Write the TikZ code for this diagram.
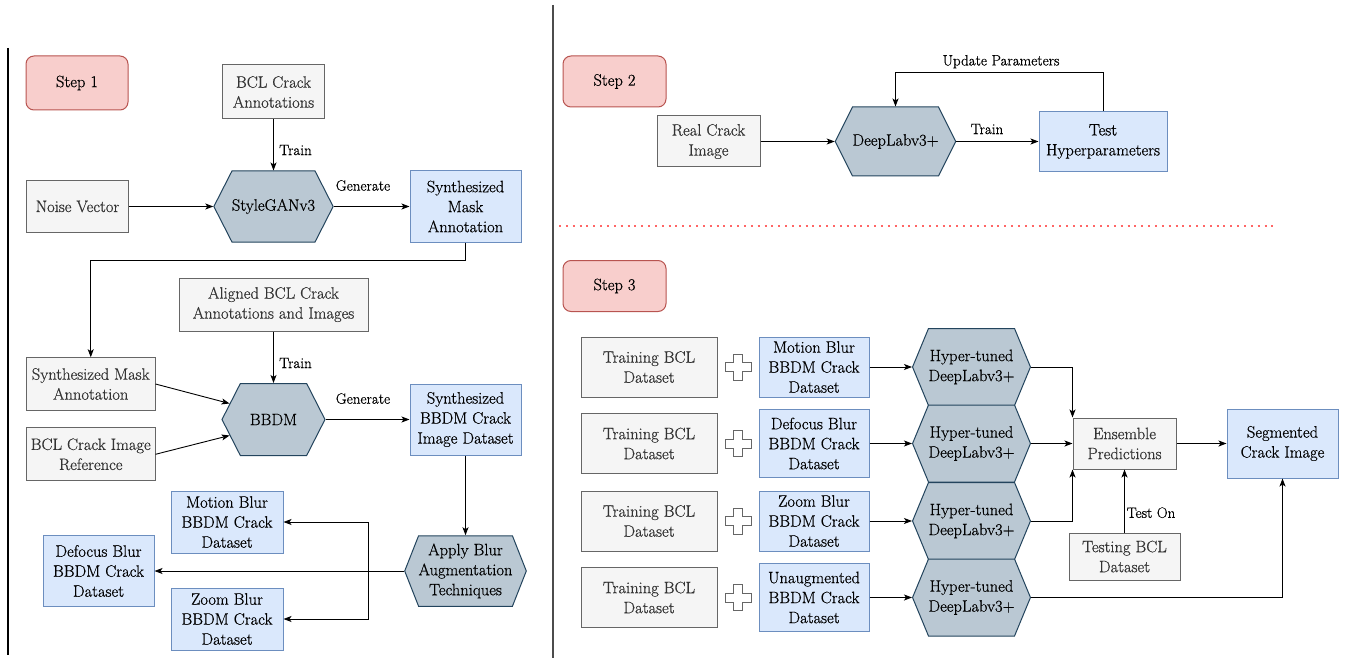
\documentclass[tikz,border=0pt]{standalone}
\usepackage{fontspec}
\setmainfont{Latin Modern Roman}[FakeBold=0.6]
\usetikzlibrary{shapes.symbols,arrows.meta,calc}
\newcommand\bodyfs{\rmfamily\fontsize{16.5}{20}\selectfont}
\newcommand\lblfs{\rmfamily\fontsize{15}{18}\selectfont}
\definecolor{gfill}{HTML}{F5F5F5}
\definecolor{gline}{HTML}{666666}
\definecolor{gtext}{HTML}{333333}
\definecolor{bfill}{HTML}{DAE8FC}
\definecolor{bline}{HTML}{6C8EBF}
\definecolor{hfill}{HTML}{BAC8D3}
\definecolor{hline}{HTML}{23445D}
\definecolor{rfill}{HTML}{F8CECC}
\definecolor{rline}{HTML}{B85450}
\definecolor{dotred}{HTML}{FF6666}
\tikzset{
  base/.style={align=center, inner sep=0pt, line width=1pt, font=\bodyfs},
  graybox/.style={base, rectangle, draw=gline, fill=gfill, text=gtext},
  bluebox/.style={base, rectangle, draw=bline, fill=bfill, text=black},
  hexbox/.style={base, signal, signal to=west and east, draw=hline, fill=hfill, text=black},
  stepbox/.style={base, rectangle, rounded corners=8pt, draw=rline, fill=rfill, text=black},
  lbl/.style={font=\lblfs, inner sep=0pt, text=black},
  arr/.style={-{Stealth[length=8pt,width=6pt,inset=2pt]}, line width=0.9pt, black},
  plusst/.style={draw=gline, fill=white, line width=1pt},
}
\begin{document}
\begin{tikzpicture}[x=1pt,y=-1pt]
\useasboundingbox (0,0) rectangle (1347,658);
% separators
\draw[line width=2pt, black] (8,48) -- (8,655);
\draw[line width=1.5pt, black!70] (553,5) -- (553,658);
\coordinate (dotA) at (559,225.7);
\coordinate (dotB) at (1275,225.7);
\draw[dotred, line width=2pt, dash pattern=on 2pt off 4.85pt] (dotA) -- (dotB);

% ---------------- Step 1 ----------------
\node[stepbox, minimum width=102pt, minimum height=54pt] (s1) at (77,83) {Step 1};
\node[graybox, minimum width=102pt, minimum height=54pt] (bcla) at (273.5,92) {BCL Crack\\Annotations};
\node[graybox, minimum width=102pt, minimum height=52pt] (noise) at (77.5,206.5) {Noise Vector};
\node[hexbox, minimum width=103pt, minimum height=71pt, signal pointer angle=126] (sgan) at (273.5,206.5) {StyleGANv3};
\node[bluebox, minimum width=111pt, minimum height=71pt] (sma) at (465.5,206.5) {Synthesized\\Mask\\Annotation};
\draw[arr] (bcla.south) -- (sgan.north);
\node[lbl] (ltrain1) at (295.5,150) {Train};
\draw[arr] (noise.east) -- (sgan.west);
\draw[arr] (sgan.east) -- (sma.west);
\node[lbl] (lgen1) at (363,185.5) {Generate};

\node[graybox, minimum width=189pt, minimum height=53pt] (aligned) at (273.5,304.5) {Aligned BCL Crack\\Annotations and Images};
\node[graybox, minimum width=128.5pt, minimum height=52.5pt] (sm2) at (90.75,384) {Synthesized Mask\\Annotation};
\node[graybox, minimum width=128.5pt, minimum height=52.7pt] (bref) at (90.75,454.3) {BCL Crack Image\\Reference};
\node[hexbox, minimum width=103pt, minimum height=72pt, signal pointer angle=126] (bbdm) at (273.5,419.5) {BBDM};
\node[bluebox, minimum width=111pt, minimum height=71pt] (sbd) at (465.5,419.5) {Synthesized\\BBDM Crack\\Image Dataset};
\draw[arr] (sma.south) -- (sma.south |- 0,260) -| (sm2.north);
\draw[arr] (aligned.south) -- (bbdm.north);
\node[lbl] (ltrain2) at (295.5,363) {Train};
\draw[arr] (sm2.east) -- (bbdm.160);
\draw[arr] (bref.east) -- (bbdm.200);
\draw[arr] (bbdm.east) -- (sbd.west);
\node[lbl] (lgen2) at (363,398.6) {Generate};

\node[bluebox, minimum width=112pt, minimum height=62pt] (mb) at (227,522) {Motion Blur\\BBDM Crack\\Dataset};
\node[bluebox, minimum width=111pt, minimum height=70.5pt] (db) at (98.5,571) {Defocus Blur\\BBDM Crack\\Dataset};
\node[bluebox, minimum width=112pt, minimum height=62pt] (zb) at (227,619) {Zoom Blur\\BBDM Crack\\Dataset};
\node[hexbox, minimum width=115.4pt, minimum height=70.5pt, signal pointer angle=137] (apply) at (465.5,571) {Apply Blur\\Augmentation\\Techniques};
\draw[arr] (sbd.south) -- (apply.north);
\draw[arr] (apply.west) -- (db.east);
\coordinate (br) at (368,571);
\draw[arr] (br) |- (mb.east);
\draw[arr] (br) |- (zb.east);

% ---------------- Step 2 ----------------
\node[stepbox, minimum width=103pt, minimum height=51pt] (s2) at (614.5,81.5) {Step 2};
\node[graybox, minimum width=103pt, minimum height=51pt] (rci) at (708.5,141.5) {Real Crack\\Image};
\node[hexbox, minimum width=101pt, minimum height=69pt, signal pointer angle=127] (dl) at (895.5,141.5) {DeepLabv3+};
\node[bluebox, minimum width=128pt, minimum height=60pt] (th) at (1103,141.5) {Test\\Hyperparameters};
\draw[arr] (rci.east) -- (dl.west);
\draw[arr] (dl.east) -- (th.west);
\node[lbl] (ltrain3) at (987,129) {Train};
\draw[arr] (th.north) -- (th.north |- 0,72.7) -| (dl.north);
\node[lbl] (lupd) at (1001,61.7) {Update Parameters};

% ---------------- Step 3 ----------------
\node[stepbox, minimum width=103pt, minimum height=51pt] (s3) at (614.5,286) {Step 3};

\foreach \i/\y/\bh/\txt in {1/367/60/{Motion Blur\\BBDM Crack\\Dataset},
                            2/443.5/68/{Defocus Blur\\BBDM Crack\\Dataset},
                            3/521/60/{Zoom Blur\\BBDM Crack\\Dataset},
                            4/597.5/68/{Unaugmented\\BBDM Crack\\Dataset}}{
  \node[graybox, minimum width=136pt, minimum height=60pt] (tr\i) at (649,\y) {Training BCL\\Dataset};
  \node[bluebox, minimum width=110pt, minimum height=\bh pt] (bb\i) at (814,\y) {\txt};
  \node[hexbox, minimum width=111pt, minimum height=77pt, signal pointer angle=135] (hy\i) at (971.5,\y) {Hyper-tuned\\DeepLabv3+};
  \draw[arr] (bb\i.east) -- (hy\i.west);
  \draw[plusst] (733.5,\y-13) -- ++(9,0) -- ++(0,8.5) -- ++(8.5,0) -- ++(0,9) -- ++(-8.5,0)
     -- ++(0,8.5) -- ++(-9,0) -- ++(0,-8.5) -- ++(-8.5,0) -- ++(0,-9) -- ++(8.5,0) -- cycle;
}
\node[graybox, minimum width=103pt, minimum height=51pt] (ens) at (1124.5,443.5) {Ensemble\\Predictions};
\node[bluebox, minimum width=111pt, minimum height=69pt] (seg) at (1282.5,443.5) {Segmented\\Crack Image};
\node[graybox, minimum width=111pt, minimum height=47pt] (test) at (1124.5,556.5) {Testing BCL\\Dataset};
\draw[arr] (hy1.east) -| (ens.north west);
\draw[arr] (hy2.east) -- (ens.west);
\draw[arr] (hy3.east) -| (ens.south west);
\draw[arr] (hy4.east) -| (seg.south);
\draw[arr] (test.north) -- (ens.south);
\node[lbl] (ltest) at (1151,512.7) {Test On};
\draw[arr] (ens.east) -- (seg.west);
\end{tikzpicture}
\end{document}
